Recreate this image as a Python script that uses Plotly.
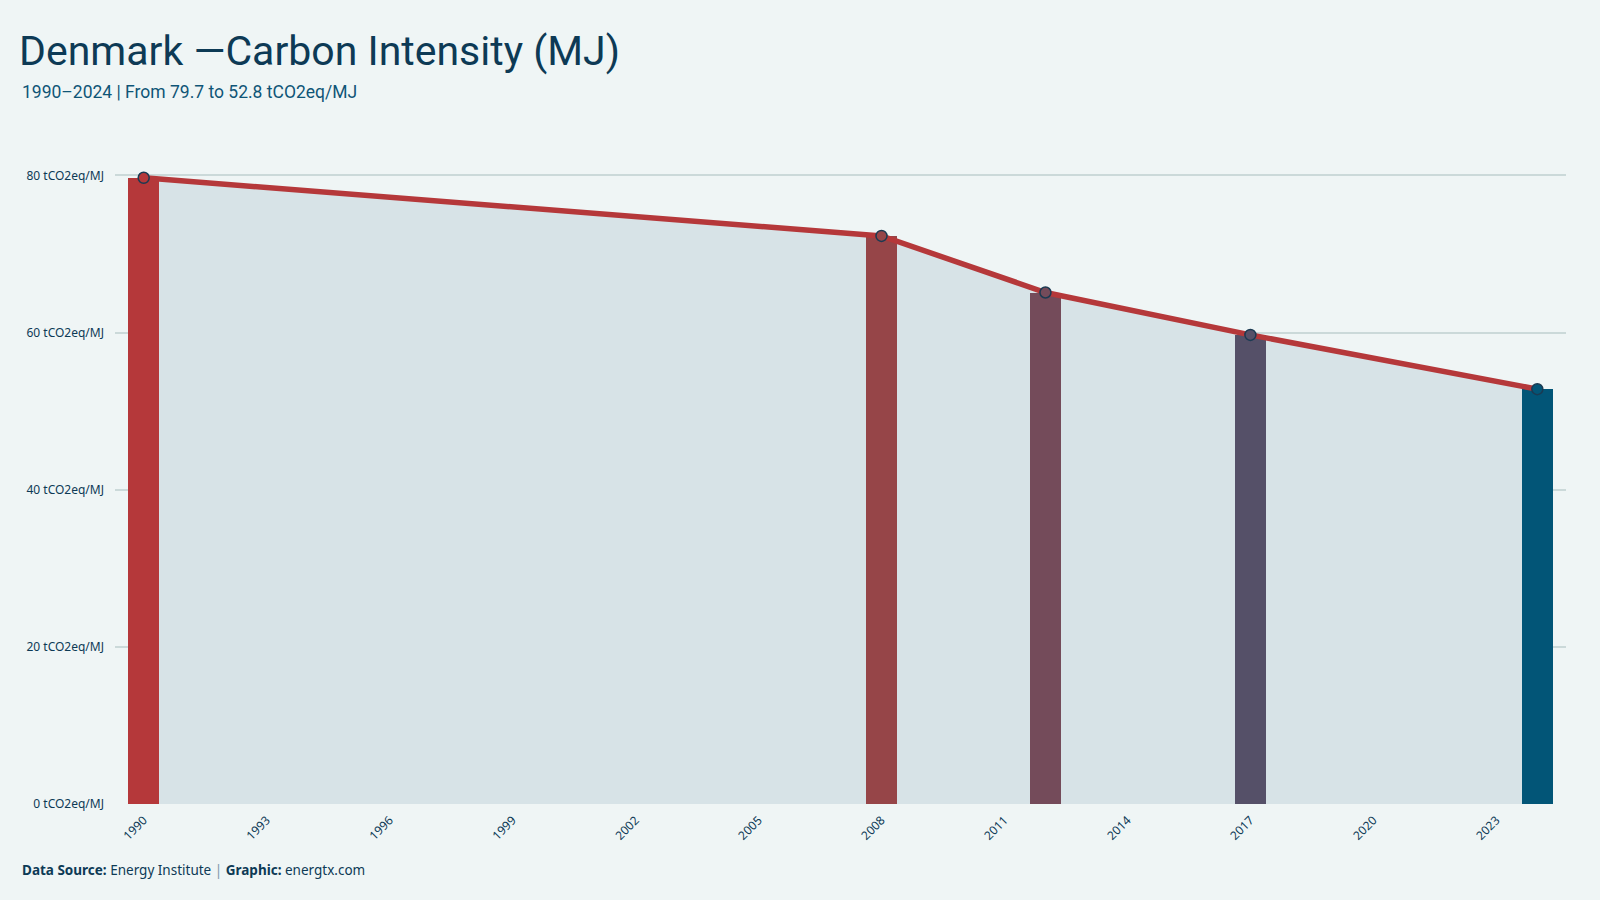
import plotly.graph_objects as go

years = [1990, 2008, 2012, 2017, 2024]
values = [79.7, 72.3, 65.1, 59.7, 52.8]
bar_colors = ["#b5383a", "#964548", "#744b5a", "#555068", "#025577"]
tick_years = list(range(1990, 2024, 3))
y_ticks = [0, 20, 40, 60, 80]

TITLE = "Denmark —Carbon Intensity (MJ)"
SUBTITLE = "1990–2024 | From 79.7 to 52.8 tCO2eq/MJ"

BG = "#eff5f5"
DARK = "#0d3a55"
COND = "Roboto, Liberation Sans, sans-serif"
UBU = "Noto Sans, Open Sans, sans-serif"

W, H = 1600, 900
L, R, T, B = 115, 34, 144, 96
pw, ph = W - L - R, H - T - B
XR = [1989.3, 2024.7]
YR = [0, 84]

def px(x):
    return (x - L) / pw

def py(y):
    return (H - B - y) / ph

fig = go.Figure()

fig.add_trace(go.Scatter(
    x=years, y=values, mode="none", fill="tozeroy",
    fillcolor="#d7e3e7", hoverinfo="skip", showlegend=False))

fig.add_trace(go.Bar(
    x=years, y=values, width=0.75, marker=dict(color=bar_colors, line=dict(width=0)),
    showlegend=False, xaxis="x2", yaxis="y2"))

fig.add_trace(go.Scatter(
    x=years, y=values, mode="lines+markers",
    line=dict(color="#b5383a", width=5.5),
    marker=dict(size=11, color=bar_colors, line=dict(color="#1b3a52", width=1.5)),
    showlegend=False, xaxis="x2", yaxis="y2"))

fig.update_layout(
    width=W, height=H,
    margin=dict(l=L, r=R, t=T, b=B),
    paper_bgcolor=BG, plot_bgcolor=BG,
    bargap=0,
    font=dict(family=UBU, color=DARK),
    xaxis=dict(
        range=XR, tickmode="array", tickvals=tick_years,
        ticktext=[str(y) for y in tick_years], tickangle=-45,
        tickfont=dict(size=12, color=DARK, family=UBU),
        showgrid=False, zeroline=False, showline=False, ticks="",
        ticklabelstandoff=6),
    yaxis=dict(
        range=YR, tickmode="array", tickvals=y_ticks,
        ticktext=[f"{v} tCO2eq/MJ" for v in y_ticks],
        tickfont=dict(size=12, color=DARK, family=UBU),
        showgrid=True, gridcolor="#cbd9d9", gridwidth=1.5,
        zeroline=False, showline=False, ticks="", ticklabelstandoff=10),
    xaxis2=dict(range=XR, overlaying="x", visible=False),
    yaxis2=dict(range=YR, overlaying="y", visible=False),
    annotations=[
        dict(text=TITLE, x=px(17), y=py(25), xref="paper", yref="paper",
             xanchor="left", yanchor="top", showarrow=False,
             font=dict(size=41, family=COND, color=DARK)),
        dict(text=SUBTITLE, x=px(20), y=py(80), xref="paper", yref="paper",
             xanchor="left", yanchor="top", showarrow=False,
             font=dict(size=17.5, family=COND, color="#0f5577")),
        dict(text="<b>Data Source:</b> Energy Institute <span style='color:#7f9aaa'>|</span> <b>Graphic:</b> energtx.com",
             x=px(20), y=py(870), xref="paper", yref="paper",
             xanchor="left", yanchor="middle", showarrow=False,
             font=dict(size=13.5, family=UBU, color=DARK)),
    ],
)

fig.write_html("out.html")
